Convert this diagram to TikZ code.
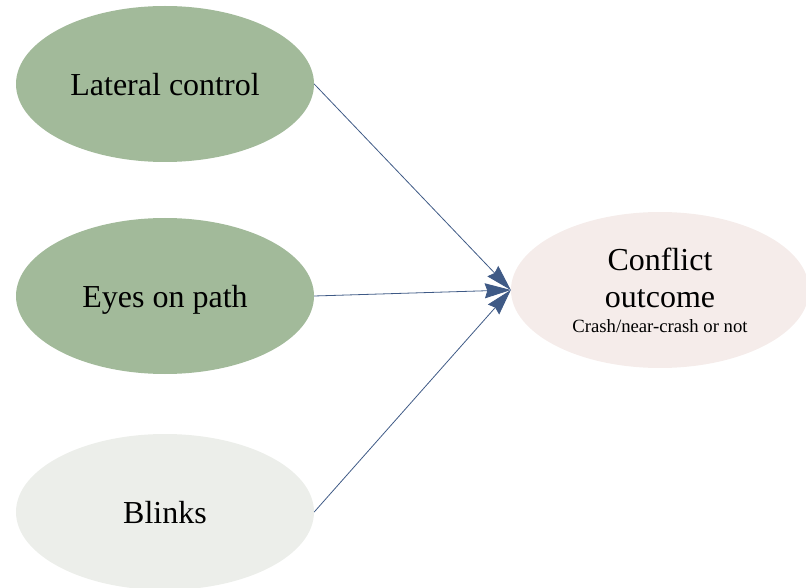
\documentclass[tikz,border=0pt]{standalone}
\usepackage{fontspec}
\setmainfont{Liberation Serif}
\usetikzlibrary{shapes.geometric,arrows.meta}
\definecolor{greenfill}{HTML}{A2BA9A}
\definecolor{greyfill}{HTML}{ECEEEA}
\definecolor{pinkfill}{HTML}{F5ECEA}
\definecolor{arrowcol}{HTML}{3F5A86}
\begin{document}
\begin{tikzpicture}[x=1pt,y=1pt,
  oval/.style={ellipse,draw=none,inner sep=0pt,minimum width=298pt,minimum height=156pt,
    font=\fontsize{32}{37}\selectfont,text=black},
  single/.style={text height=23pt,text depth=0pt},
  link/.style={draw=arrowcol,line width=0.8pt,-{Stealth[length=26pt,width=15pt,inset=2.5pt]}}]
\useasboundingbox (0,0) rectangle (806,-588);
\node[oval,single,fill=greenfill] (lat) at (165,-84) {Lateral control};
\node[oval,single,fill=greenfill] (eye) at (165,-296) {Eyes on path};
\node[oval,single,fill=greyfill] (bli) at (165,-512) {Blinks};
\node[oval,fill=pinkfill,align=center] (con) at (660,-290) {Conflict\\outcome\\[-12pt]{\fontsize{18.7}{20}\selectfont Crash/near-crash or not}};
\draw[link] (lat.east) -- (con.west);
\draw[link] (eye.east) -- (con.west);
\draw[link] (bli.east) -- (con.west);
\end{tikzpicture}
\end{document}
